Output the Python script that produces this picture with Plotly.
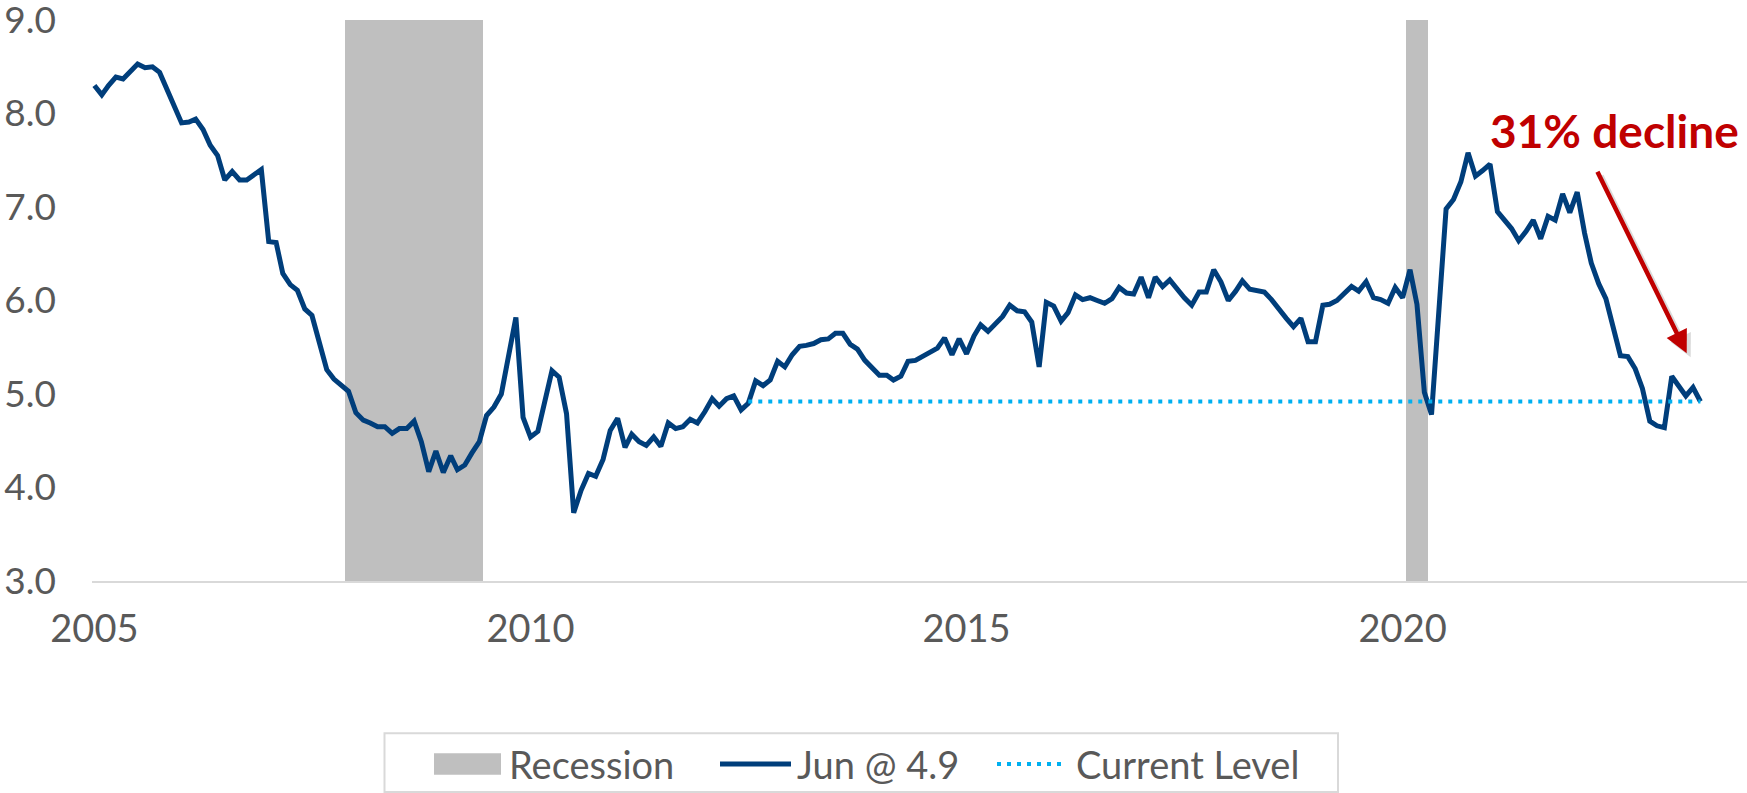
import pandas as pd
import plotly.graph_objects as go

# Monthly total home sales (millions, SAAR), Jan 2005 - Jun 2023
sales = [
    8.30, 8.20, 8.30, 8.39, 8.37, 8.45, 8.53, 8.49, 8.50, 8.44, 8.25, 8.09,  # 2005
    7.90, 7.91, 7.94, 7.83, 7.66, 7.55, 7.29, 7.38, 7.29, 7.29, 7.34, 7.40,  # 2006
    6.63, 6.62, 6.29, 6.17, 6.11, 5.91, 5.84, 5.57, 5.26, 5.16, 5.09, 5.03,  # 2007
    4.80, 4.72, 4.69, 4.65, 4.65, 4.58, 4.63, 4.63, 4.71, 4.49, 4.17, 4.39,  # 2008
    4.16, 4.34, 4.19, 4.24, 4.37, 4.49, 4.77, 4.86, 5.00, 5.40, 5.82, 4.75,  # 2009
    4.54, 4.60, 4.90, 5.25, 5.18, 4.79, 3.73, 3.97, 4.15, 4.12, 4.30, 4.61,  # 2010
    4.74, 4.43, 4.57, 4.49, 4.45, 4.54, 4.44, 4.69, 4.63, 4.65, 4.73, 4.69,  # 2011
    4.81, 4.95, 4.87, 4.95, 4.98, 4.83, 4.90, 5.14, 5.09, 5.15, 5.35, 5.29,  # 2012
    5.42, 5.51, 5.52, 5.54, 5.58, 5.59, 5.65, 5.65, 5.53, 5.48, 5.36, 5.28,  # 2013
    5.20, 5.20, 5.15, 5.19, 5.35, 5.36, 5.40, 5.45, 5.49, 5.60, 5.42, 5.59,  # 2014
    5.43, 5.62, 5.74, 5.67, 5.75, 5.83, 5.95, 5.89, 5.88, 5.77, 5.29, 5.98,  # 2015
    5.94, 5.78, 5.87, 6.06, 6.01, 6.03, 6.00, 5.97, 6.02, 6.14, 6.08, 6.07,  # 2016
    6.25, 6.03, 6.25, 6.15, 6.22, 6.12, 6.03, 5.95, 6.09, 6.09, 6.33, 6.20,  # 2017
    6.00, 6.10, 6.21, 6.12, 6.10, 6.09, 6.01, 5.90, 5.81, 5.72, 5.81, 5.56,  # 2018
    5.56, 5.95, 5.96, 6.00, 6.07, 6.15, 6.10, 6.20, 6.03, 6.01, 5.97, 6.14,  # 2019
    6.03, 6.33, 5.96, 5.02, 4.78, 5.93, 6.98, 7.08, 7.27, 7.58, 7.33, 7.39,  # 2020
    7.46, 6.95, 6.86, 6.77, 6.64, 6.74, 6.86, 6.66, 6.90, 6.86, 7.14, 6.94,  # 2021
    7.16, 6.72, 6.40, 6.18, 6.02, 5.72, 5.41, 5.40, 5.27, 5.06, 4.71, 4.66,  # 2022
    4.64, 5.19, 5.09, 4.98, 5.07, 4.92,                                      # 2023
]
start_month = "2005-01-01"
current_level_start = "2012-07-01"

recession_months = (
    list(pd.date_range("2007-12-01", "2009-06-01", freq="MS"))
    + list(pd.date_range("2020-02-01", "2020-04-01", freq="MS"))
)
y_min, y_max = 3.0, 9.0
y_ticks = [3.0, 4.0, 5.0, 6.0, 7.0, 8.0, 9.0]
x_ticks = ["2005-01-01", "2010-01-01", "2015-01-01", "2020-01-01"]
x_tick_labels = ["2005", "2010", "2015", "2020"]
legend_labels = ["Recession", "Jun @ 4.9", "Current Level"]
annotation_text = "31% decline"

dates = pd.date_range(start_month, periods=len(sales), freq="MS")
current = sales[-1]
cl_dates = [d for d in dates if d >= pd.Timestamp(current_level_start)]

GRAY = "#595959"
FONT = "Lato"
NAVY = "#003E7B"
SKY = "#00B0F0"
REC = "#BFBFBF"
RED = "#C00000"

W, H = 1747, 793
L, R, T, B = 92, 0, 20, 212.4
PW, PH = W - L - R, H - T - B


def px(x):
    return (x - L) / PW


def py(y):
    return (H - B - y) / PH


fig = go.Figure()
fig.add_trace(go.Bar(
    x=recession_months,
    y=[y_max - y_min] * len(recession_months),
    base=y_min,
    width=[31 * 86400000] * len(recession_months),
    marker=dict(color=REC, line=dict(width=0)),
    name=legend_labels[0], showlegend=False, hoverinfo="skip",
))
fig.add_trace(go.Scatter(
    x=dates, y=sales, mode="lines",
    line=dict(color=NAVY, width=5),
    name=legend_labels[1], showlegend=False,
))
fig.add_trace(go.Scatter(
    x=cl_dates, y=[current] * len(cl_dates), mode="lines",
    line=dict(color=SKY, width=4, dash="4px,6px"),
    name=legend_labels[2], showlegend=False,
))

# arrow shadow + arrow
for dx, dy, col in [(4, 4, "rgba(0,0,0,0.14)"), (0, 0, RED)]:
    fig.add_annotation(
        xref="paper", yref="paper", axref="pixel", ayref="pixel",
        x=px(1686.7 + dx), y=py(353 + dy),
        ax=-90, ay=-183, text="", showarrow=True,
        arrowhead=2, arrowsize=1.0, arrowwidth=4.5, arrowcolor=col,
    )
fig.add_annotation(
    xref="paper", yref="paper",
    x=px(1488), y=py(130),
    text="<b>" + annotation_text + "</b>", showarrow=False,
    font=dict(family=FONT, size=46, color=RED),
    xanchor="left", yanchor="middle",
)

# legend (drawn to match the boxed legend of the original)
shapes = [
    dict(type="rect", xref="paper", yref="paper",
         x0=px(384.5), x1=px(1338), y0=py(732.7), y1=py(791.5),
         line=dict(color="#D9D9D9", width=2), fillcolor="white", layer="above"),
    dict(type="rect", xref="paper", yref="paper",
         x0=px(434), x1=px(501), y0=py(752.7), y1=py(774.3),
         line=dict(width=0), fillcolor=REC, layer="above"),
    dict(type="line", xref="paper", yref="paper",
         x0=px(720), x1=px(791), y0=py(763.5), y1=py(763.5),
         line=dict(color=NAVY, width=5), layer="above"),
    dict(type="line", xref="paper", yref="paper",
         x0=px(997), x1=px(1063), y0=py(763.5), y1=py(763.5),
         line=dict(color=SKY, width=4, dash="4px,6px"), layer="above"),
]
for label, xpos in zip(legend_labels, [507, 795, 1074]):
    fig.add_annotation(
        xref="paper", yref="paper", x=px(xpos), y=py(763.5),
        text=label, showarrow=False, xanchor="left", yanchor="middle",
        font=dict(family=FONT, size=38, color=GRAY),
    )

fig.update_layout(
    width=W, height=H,
    margin=dict(l=L, r=R, t=T, b=B),
    plot_bgcolor="white", paper_bgcolor="white",
    font=dict(family=FONT, size=38, color=GRAY),
    barmode="overlay", bargap=0,
    showlegend=False,
    shapes=shapes,
    xaxis=dict(
        type="date",
        range=["2004-12-22", "2023-12-13"],
        tickvals=x_ticks, ticktext=x_tick_labels,
        showgrid=False, zeroline=False,
        showline=True, linecolor="#D9D9D9", linewidth=2,
        ticks="", ticklabelstandoff=13, automargin=False,
        ticklabeloverflow="allow",
        tickfont=dict(family=FONT, size=38, color=GRAY),
    ),
    yaxis=dict(
        range=[y_min, y_max + 0.0005], tickvals=y_ticks, tickformat=".1f",
        showgrid=False, zeroline=False, showline=False,
        ticks="", ticklabelstandoff=35, automargin=False,
        ticklabeloverflow="allow",
        tickfont=dict(family=FONT, size=37, color=GRAY),
    ),
)

# let the figure fill the window exactly (no default 8px page margin)
fig.write_html(
    "out.html",
    config={"displayModeBar": False},
    post_script="document.body.style.margin='0px';",
)
